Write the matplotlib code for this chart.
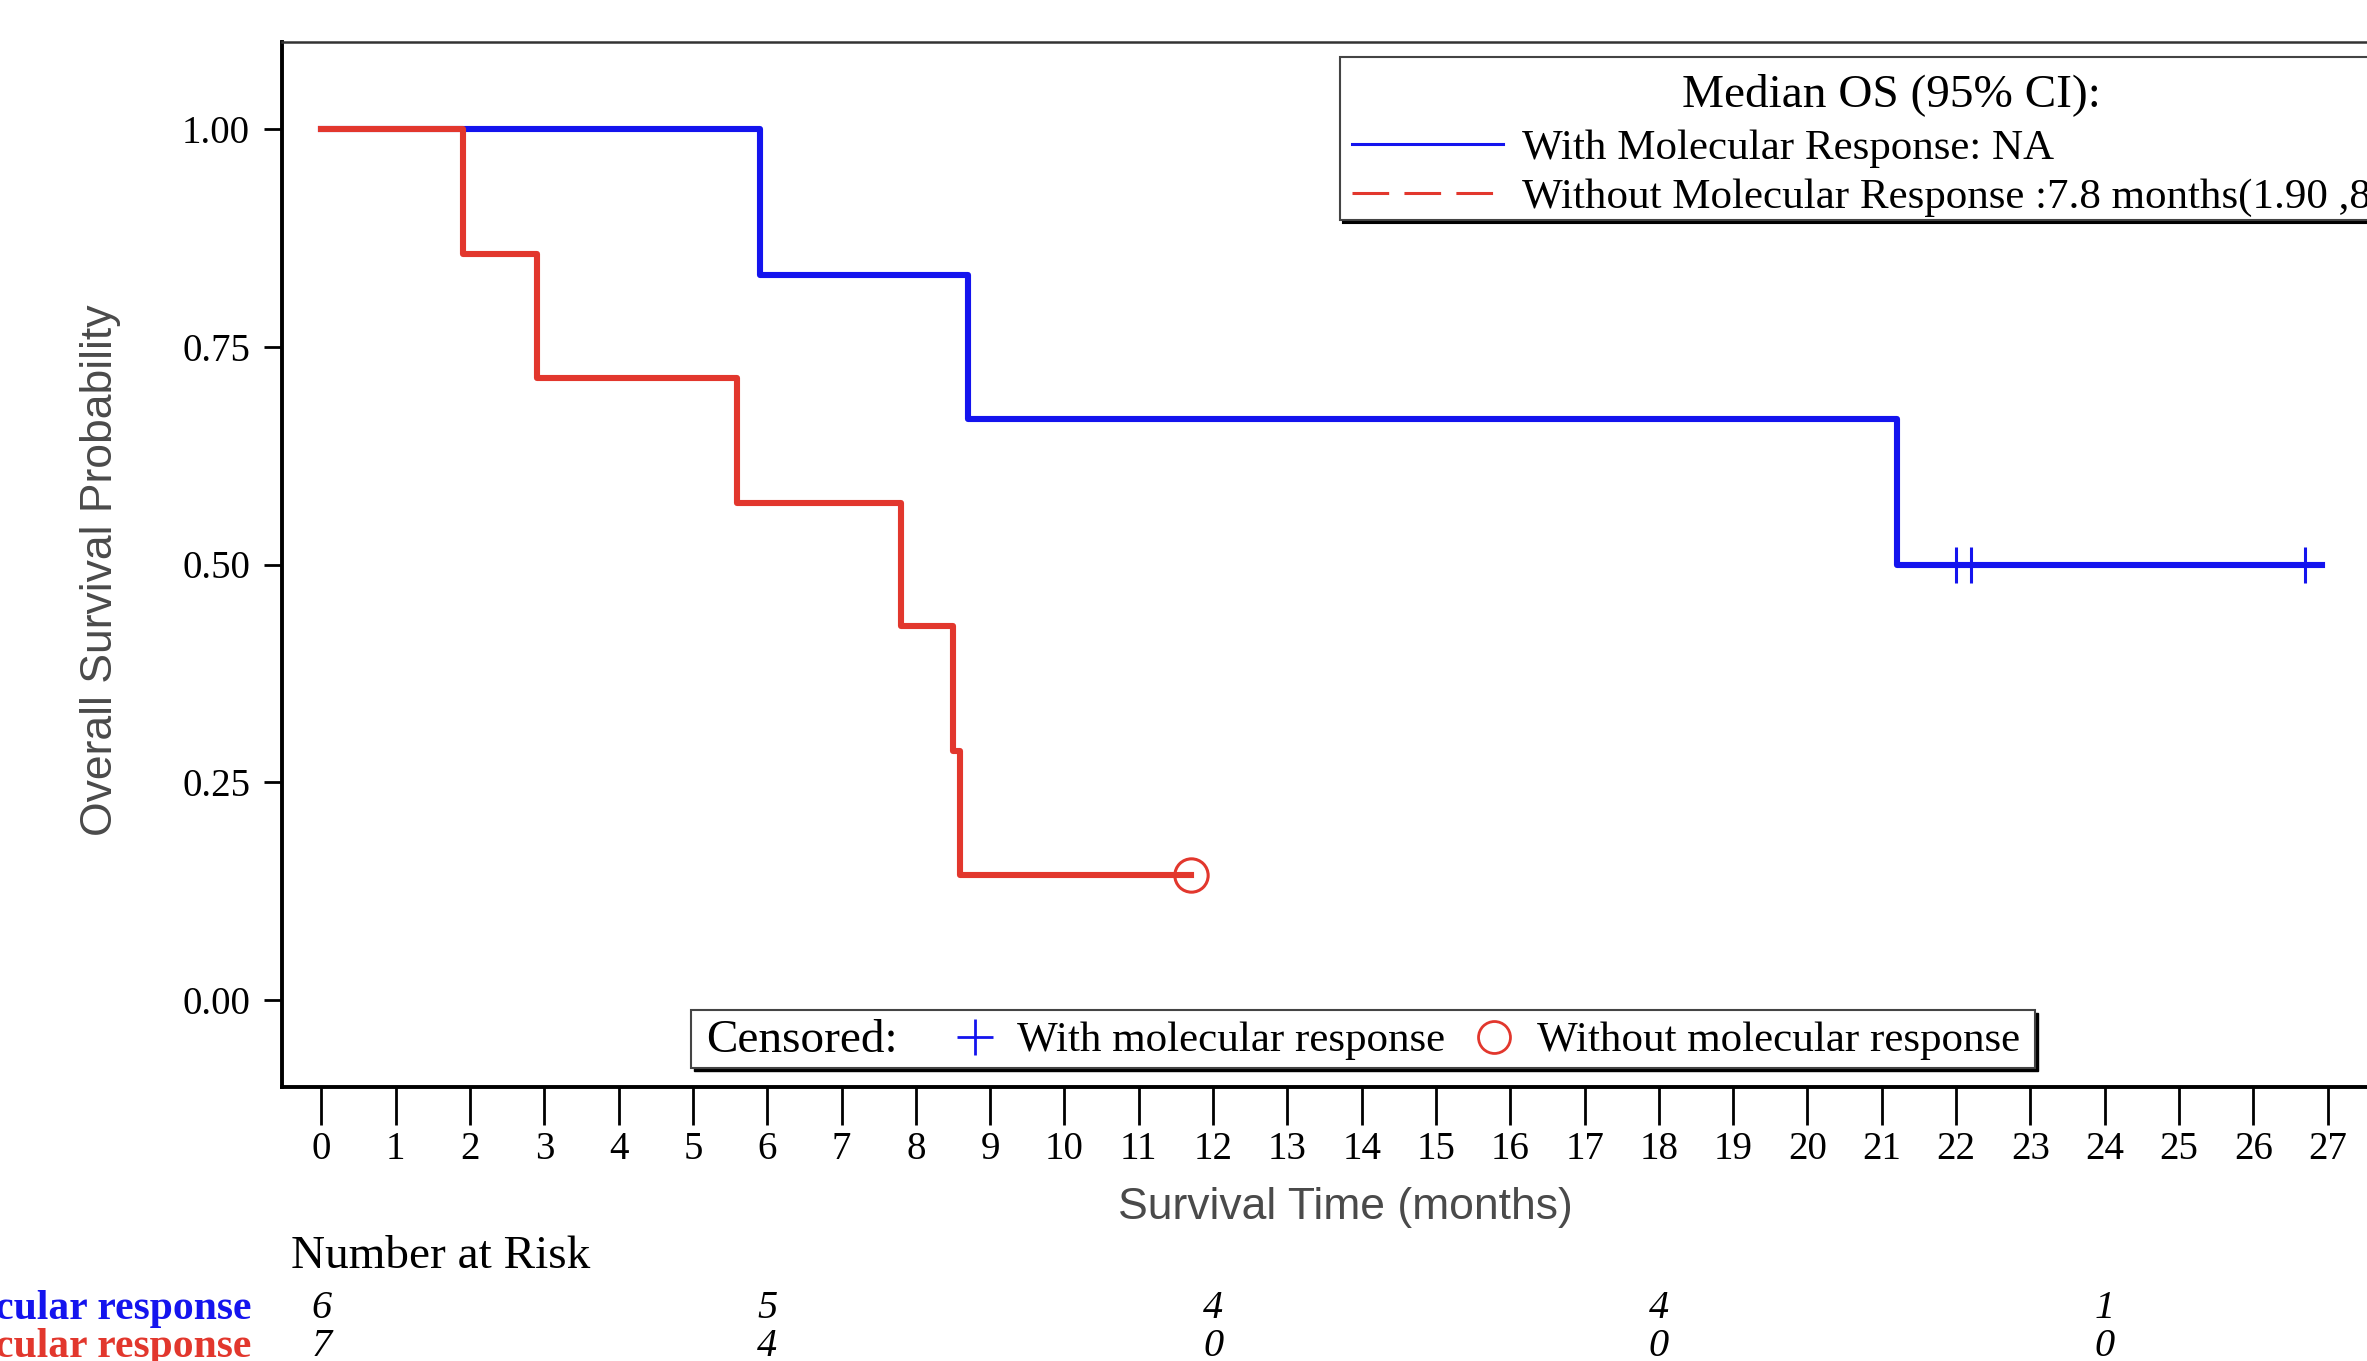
import numpy as np
import matplotlib.pyplot as plt
from matplotlib.lines import Line2D
from matplotlib.patches import Rectangle
from matplotlib.offsetbox import DrawingArea
from matplotlib.transforms import blended_transform_factory

# 数据
blue_time = [0, 5.9, 8.7, 21.2, 26.92]
blue_surv = [1.0, 0.833, 0.667, 0.5, 0.5]
blue_cens_time = [22.0, 22.2, 26.7]
blue_cens_surv = [0.5, 0.5, 0.5]

red_time = [0, 1.9, 2.9, 5.6, 7.8, 8.5, 8.6, 11.7]
red_surv = [1.0, 0.857, 0.714, 0.571, 0.429, 0.286, 0.143, 0.143]
red_cens_time = [11.7]
red_cens_surv = [0.143]

risk_times = [0, 6, 12, 18, 24]
risk_with = [6, 5, 4, 4, 1]
risk_without = [7, 4, 0, 0, 0]

x_ticks = list(range(0, 28))
y_ticks = [0.0, 0.25, 0.5, 0.75, 1.0]

BLUE = "#1414ee"
RED = "#e2372d"
SERIF = "Liberation Serif"
SANS = "Liberation Sans"

W, H = 2367, 1361


def fx(px):
    return px / W


def fy(py):
    return 1 - py / H


fig = plt.figure(figsize=(W / 100, H / 100), dpi=100)
ax = fig.add_axes([fx(282), fy(1087), 1 - fx(282), (1087 - 42) / H])

ax.step(blue_time, blue_surv, where="post", color=BLUE, linewidth=4.4, zorder=3)
ax.step(red_time, red_surv, where="post", color=RED, linewidth=4.4, zorder=4)
ax.plot(blue_cens_time, blue_cens_surv, linestyle="none", marker="+", markersize=26,
        markeredgewidth=2.2, color=BLUE, zorder=5)
ax.plot(red_cens_time, red_cens_surv, linestyle="none", marker="o", markersize=24,
        markerfacecolor="none", markeredgewidth=2.2, color=RED, zorder=5)

ax.set_xlim(-0.53, 27.53)
ax.set_ylim(-0.1, 1.1)
ax.set_xticks(x_ticks)
ax.set_xticklabels([str(t) for t in x_ticks], fontfamily=SERIF, fontsize=28)
ax.set_yticks(y_ticks)
ax.set_yticklabels([f"{v:.2f}" for v in y_ticks], fontfamily=SERIF, fontsize=28)
ax.tick_params(axis="x", length=27, width=2, pad=5)
ax.tick_params(axis="y", length=13, width=2, pad=10)
for s in ["left", "bottom"]:
    ax.spines[s].set_linewidth(2.8)
ax.spines["top"].set_linewidth(1.8)
ax.spines["top"].set_color("#333333")
ax.spines["right"].set_visible(False)

fig.text(fx(1345), fy(1208), "Survival Time (months)", ha="center", va="center",
         fontfamily=SANS, fontsize=32, color="#4a4a4a")
fig.text(fx(101), fy(570), "Overall Survival Probability", ha="center", va="center",
         rotation=90, fontfamily=SANS, fontsize=32, color="#4a4a4a")

# 中位生存期图例
leg1 = ax.legend(
    handles=[Line2D([], [], color=BLUE, linewidth=2.2),
             Line2D([], [], color=RED, linewidth=2.2, dashes=(12, 5))],
    labels=["With Molecular Response: NA",
            "Without Molecular Response :7.8 months(1.90 ,8.60)"],
    title="Median OS (95% CI):",
    loc="upper left", bbox_to_anchor=(fx(1340), fy(57)), bbox_transform=fig.transFigure,
    prop={"family": SERIF, "size": 31}, title_fontproperties={"family": SERIF, "size": 34},
    fancybox=False, edgecolor="#444444", framealpha=1, handlelength=3.5, borderpad=0.07,
    labelspacing=0.22, handletextpad=0.45, borderaxespad=0,
    shadow={"ox": 2, "oy": -2, "color": "black", "alpha": 1})
leg1.get_frame().set_linewidth(1.5)
leg1._legend_box.sep = 9.5
# 标题上方留白、图例左侧留白
leg1._legend_box.get_children().insert(0, DrawingArea(1, 0))
leg1._legend_handle_box.sep = 0
leg1._legend_handle_box.get_children().insert(0, DrawingArea(6.5, 0))

# 删失图例（手工绘制的框）
bx0, bx1, by0, by1 = 691, 2035, 1010, 1068
fig.patches.append(Rectangle((fx(bx0) + 0.0012, fy(by1) - 0.0020), fx(bx1) - fx(bx0),
                             fy(by0) - fy(by1), transform=fig.transFigure,
                             facecolor="black", edgecolor="black", zorder=5))
fig.patches.append(Rectangle((fx(bx0), fy(by1)), fx(bx1) - fx(bx0), fy(by0) - fy(by1),
                             transform=fig.transFigure, facecolor="white",
                             edgecolor="#444444", linewidth=1.5, zorder=6))
fig.text(fx(706), fy(1041), "Censored:", ha="left", va="center",
         fontfamily=SERIF, fontsize=34, zorder=7)
fig.add_artist(Line2D([fx(975)], [fy(1037)], linestyle="none", marker="+", markersize=26,
                      markeredgewidth=2, color=BLUE, transform=fig.transFigure, zorder=7))
fig.text(fx(1017), fy(1041), "With molecular response", ha="left", va="center",
         fontfamily=SERIF, fontsize=31, zorder=7)
fig.add_artist(Line2D([fx(1494)], [fy(1037)], linestyle="none", marker="o", markersize=23,
                      markerfacecolor="none", markeredgewidth=2, color=RED,
                      transform=fig.transFigure, zorder=7))
fig.text(fx(1537), fy(1041), "Without molecular response", ha="left", va="center",
         fontfamily=SERIF, fontsize=31, zorder=7)

# 风险人数表
tr = blended_transform_factory(ax.transData, fig.transFigure)
fig.text(fx(291), fy(1257), "Number at Risk", ha="left", va="center",
         fontfamily=SERIF, fontsize=34)
fig.text(fx(251), fy(1309), "With molecular response", ha="right", va="center",
         fontfamily=SERIF, fontweight="bold", fontsize=30, color=BLUE)
fig.text(fx(251), fy(1347), "Without molecular response", ha="right", va="center",
         fontfamily=SERIF, fontweight="bold", fontsize=30, color=RED)
for t, a, b in zip(risk_times, risk_with, risk_without):
    ax.text(t, fy(1309), str(a), transform=tr, ha="center", va="center",
            fontfamily=SERIF, fontstyle="italic", fontsize=29, clip_on=False)
    ax.text(t, fy(1347), str(b), transform=tr, ha="center", va="center",
            fontfamily=SERIF, fontstyle="italic", fontsize=29, clip_on=False)

fig.savefig("out.png", dpi=100)
